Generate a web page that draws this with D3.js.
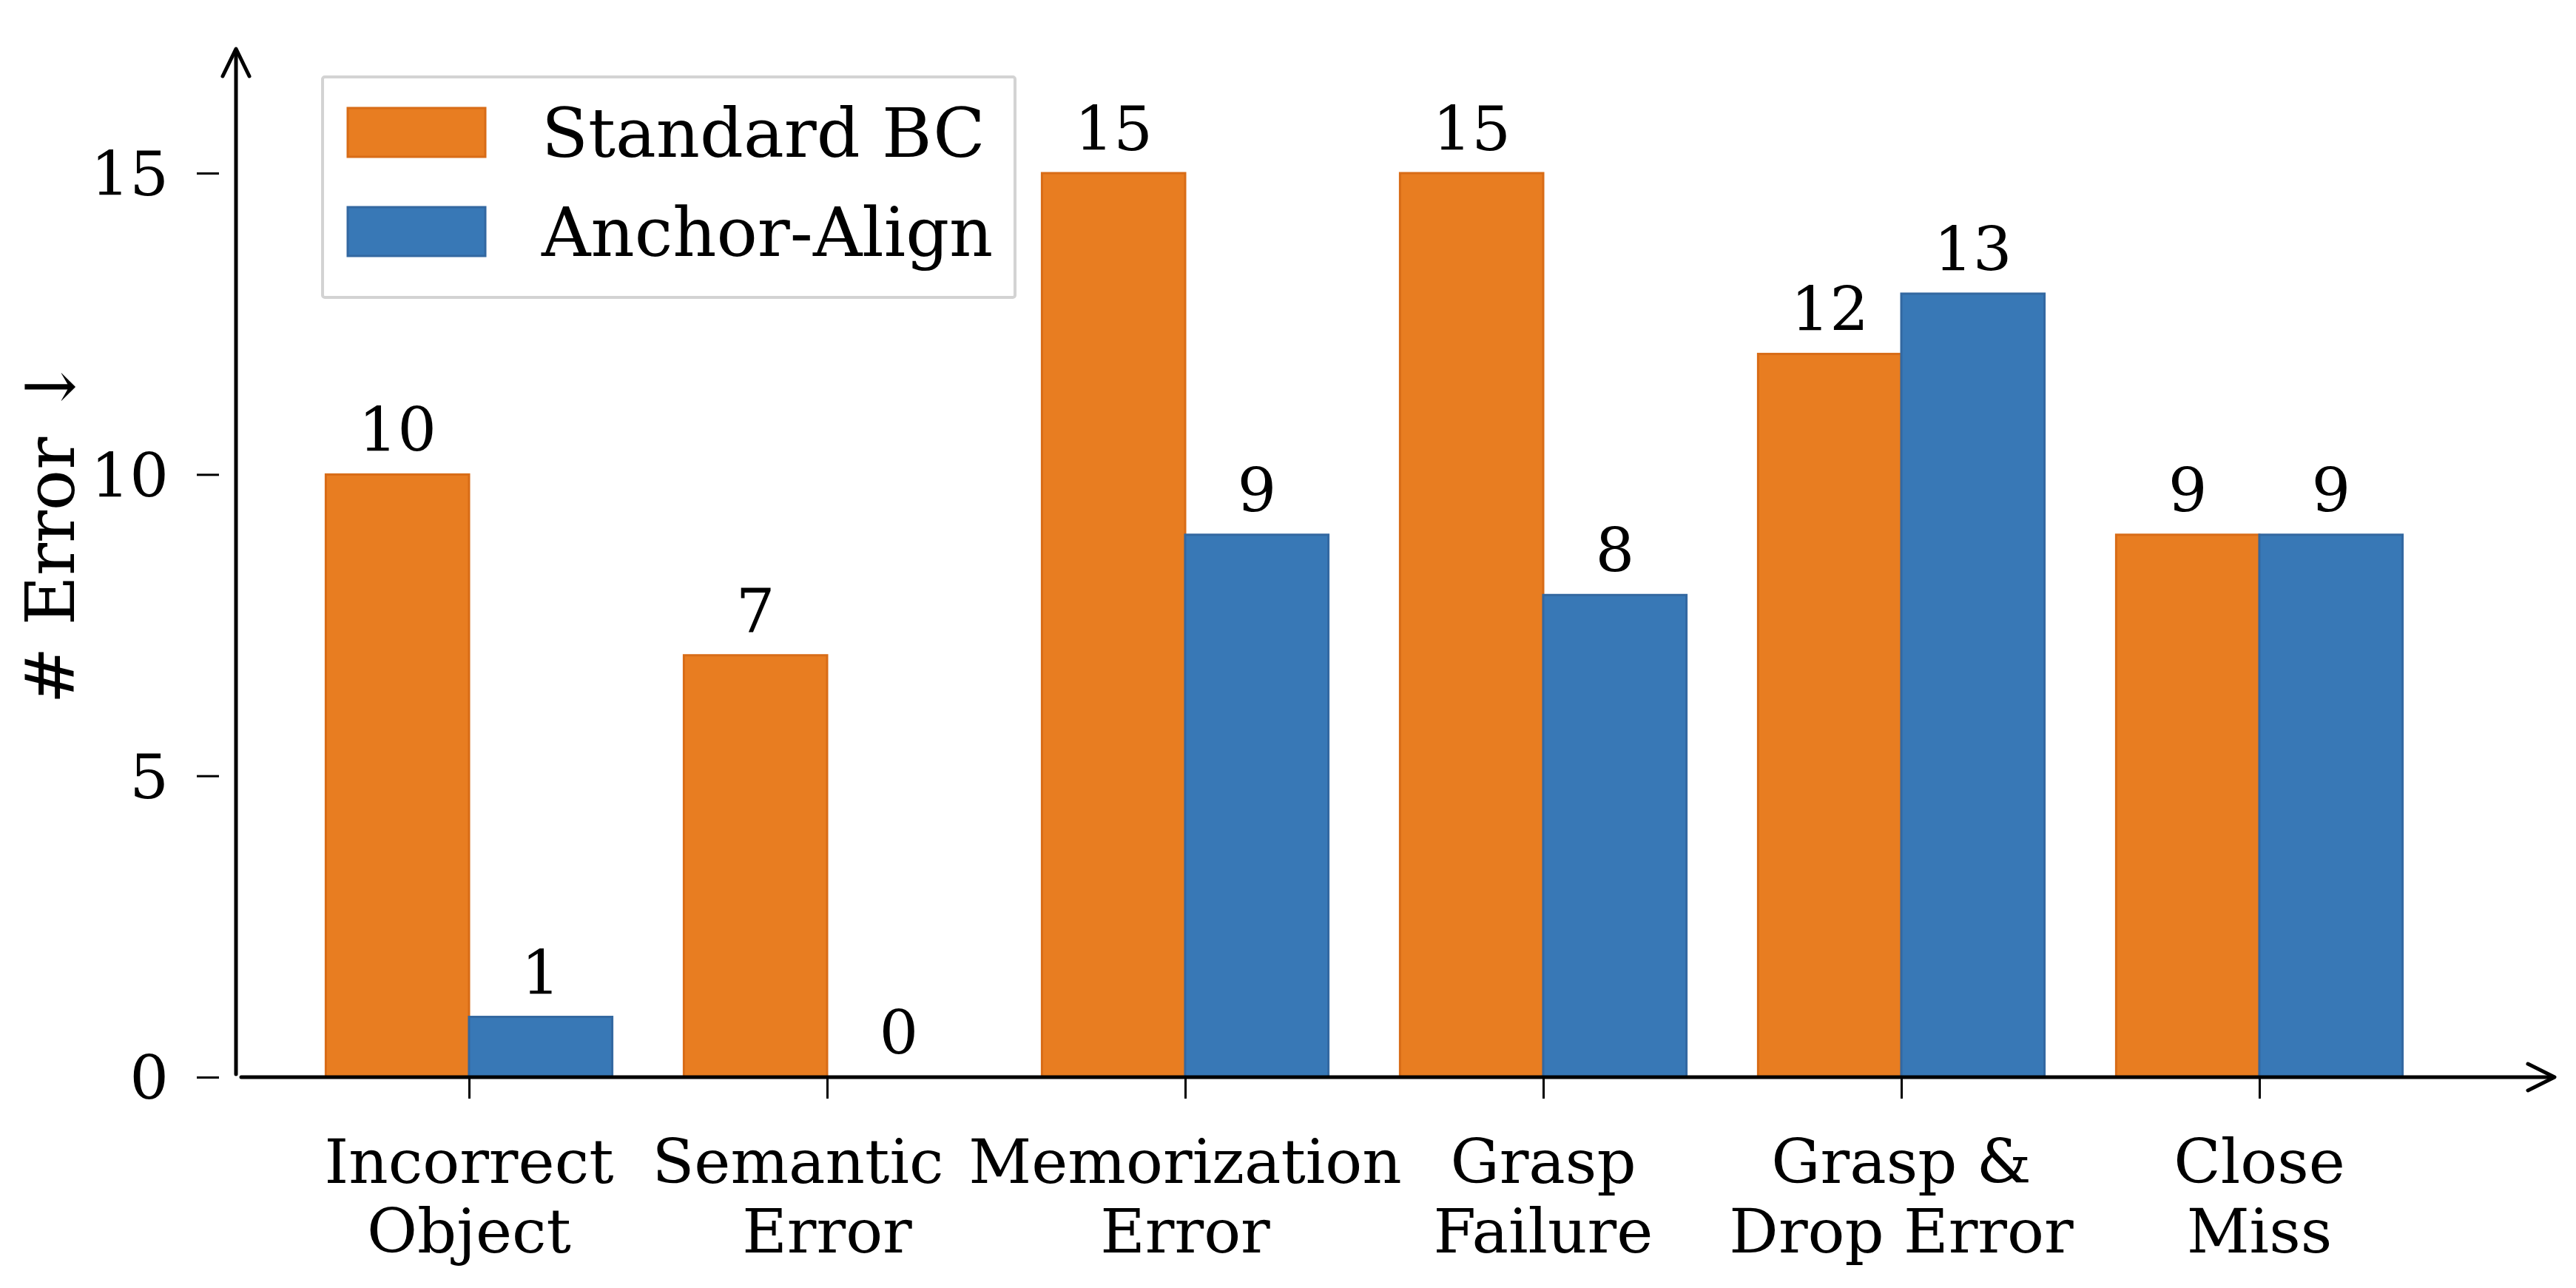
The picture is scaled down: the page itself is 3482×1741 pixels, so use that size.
<!DOCTYPE html>
<html lang="en">
<head>
  <meta charset="utf-8">
  <title># Error by failure type</title>
  <script src="https://d3js.org/d3.v7.min.js"></script>
  <style>
    html, body { margin: 0; padding: 0; background: #fff; }
    svg { display: block; }
    text { font-family: "DejaVu Serif", serif; fill: #000; }
  </style>
</head>
<body>
<div id="chart"></div>
<script>
  // data
  // (the original "Semantic" label carries trailing spaces, which pushes it left)
  var categories = [["Incorrect", "Object"], ["Semantic\u00a0\u00a0\u00a0", "Error"], ["Memorization", "Error"],
                    ["Grasp", "Failure"], ["Grasp &", "Drop Error"], ["Close", "Miss"]];
  var seriesNames = ["Standard BC", "Anchor-Align"];
  var standardBC = [10, 7, 15, 15, 12, 9];
  var anchorAlign = [1, 0, 9, 8, 13, 9];
  var yTicks = [0, 5, 10, 15];

  var width = 3482, height = 1741;
  var fills = ["#e87d21", "#3878b6"];
  var edges = ["#d86c17", "#3368a1"];

  var svg = d3.select("#chart").append("svg")
      .attr("width", width)
      .attr("height", height);

  var keys = categories.map(function(c, i) { return i; });
  var x = d3.scalePoint().domain(keys).range([634, 3054]);
  var step = x.step();
  var barW = step * 0.4;
  var y = d3.scaleLinear().domain([0, 15]).range([1456, 234]);
  var axisX = 319;

  // bars
  var series = [standardBC, anchorAlign];
  series.forEach(function(vals, s) {
    svg.append("g").selectAll("rect")
      .data(vals)
      .enter().append("rect")
      .attr("x", function(d, i) { return x(i) - barW + s * barW; })
      .attr("y", function(d) { return y(d); })
      .attr("width", barW)
      .attr("height", function(d) { return y(0) - y(d); })
      .attr("fill", fills[s])
      .attr("stroke", edges[s])
      .attr("stroke-width", 3);

    svg.append("g").selectAll("text")
      .data(vals)
      .enter().append("text")
      .attr("x", function(d, i) { return x(i) - barW / 2 + s * barW; })
      .attr("y", function(d) { return y(d) - 31; })
      .attr("text-anchor", "middle")
      .attr("font-size", 83)
      .text(function(d) { return d; });
  });

  // y axis
  var yAxis = svg.append("g")
      .attr("transform", "translate(" + axisX + ",0)")
      .call(d3.axisLeft(y).tickValues(yTicks).tickSize(0).tickPadding(0));
  yAxis.select(".domain").remove();
  yAxis.selectAll(".tick line")
      .attr("x1", -53).attr("x2", -23)
      .attr("stroke", "#000").attr("stroke-width", 3);
  yAxis.selectAll(".tick text")
      .attr("x", -91)
      .attr("dy", "0.36em")
      .attr("font-size", 83)
      .attr("font-family", "DejaVu Serif");

  // x axis
  var xAxis = svg.append("g")
      .attr("transform", "translate(0," + y(0) + ")")
      .call(d3.axisBottom(x).tickSize(29).tickFormat(""));
  xAxis.select(".domain").remove();
  xAxis.selectAll(".tick line").attr("stroke", "#000").attr("stroke-width", 3);

  var xl = svg.append("g").selectAll("text")
      .data(categories)
      .enter().append("text")
      .attr("text-anchor", "middle")
      .attr("font-size", 83);
  xl.append("tspan")
      .attr("x", function(d, i) { return x(i); })
      .attr("y", 1599)
      .text(function(d) { return d[0]; });
  xl.append("tspan")
      .attr("x", function(d, i) { return x(i); })
      .attr("y", 1693)
      .text(function(d) { return d[1]; });

  // spines with open arrow heads
  var ax = svg.append("g")
      .attr("fill", "none")
      .attr("stroke", "#000")
      .attr("stroke-width", 5)
      .attr("stroke-linecap", "round")
      .attr("stroke-linejoin", "round");
  ax.append("line").attr("x1", axisX).attr("x2", axisX).attr("y1", 1452).attr("y2", 68);
  ax.append("path").attr("d", "M" + (axisX - 18) + ",103L" + axisX + ",66L" + (axisX + 18) + ",103");
  ax.append("line").attr("x1", 326).attr("x2", 3451).attr("y1", y(0)).attr("y2", y(0));
  ax.append("path").attr("d", "M3417," + (y(0) - 18) + "L3453," + y(0) + "L3417," + (y(0) + 18));

  // y label
  svg.append("text")
      .attr("transform", "translate(100,718) rotate(-90)")
      .attr("text-anchor", "middle")
      .attr("font-size", 92)
      .text("# Error \u2193");

  // legend
  var lg = svg.append("g");
  lg.append("rect")
      .attr("x", 436).attr("y", 104)
      .attr("width", 936).attr("height", 298)
      .attr("rx", 3)
      .attr("fill", "#fff")
      .attr("stroke", "#d3d3d3")
      .attr("stroke-width", 4);
  seriesNames.forEach(function(name, i) {
    var top = 146 + i * 134;
    lg.append("rect")
      .attr("x", 470).attr("y", top)
      .attr("width", 186).attr("height", 66)
      .attr("fill", fills[i])
      .attr("stroke", edges[i])
      .attr("stroke-width", 3);
    lg.append("text")
      .attr("x", 732).attr("y", top + 66)
      .attr("font-size", 92)
      .text(name);
  });
</script>
</body>
</html>
